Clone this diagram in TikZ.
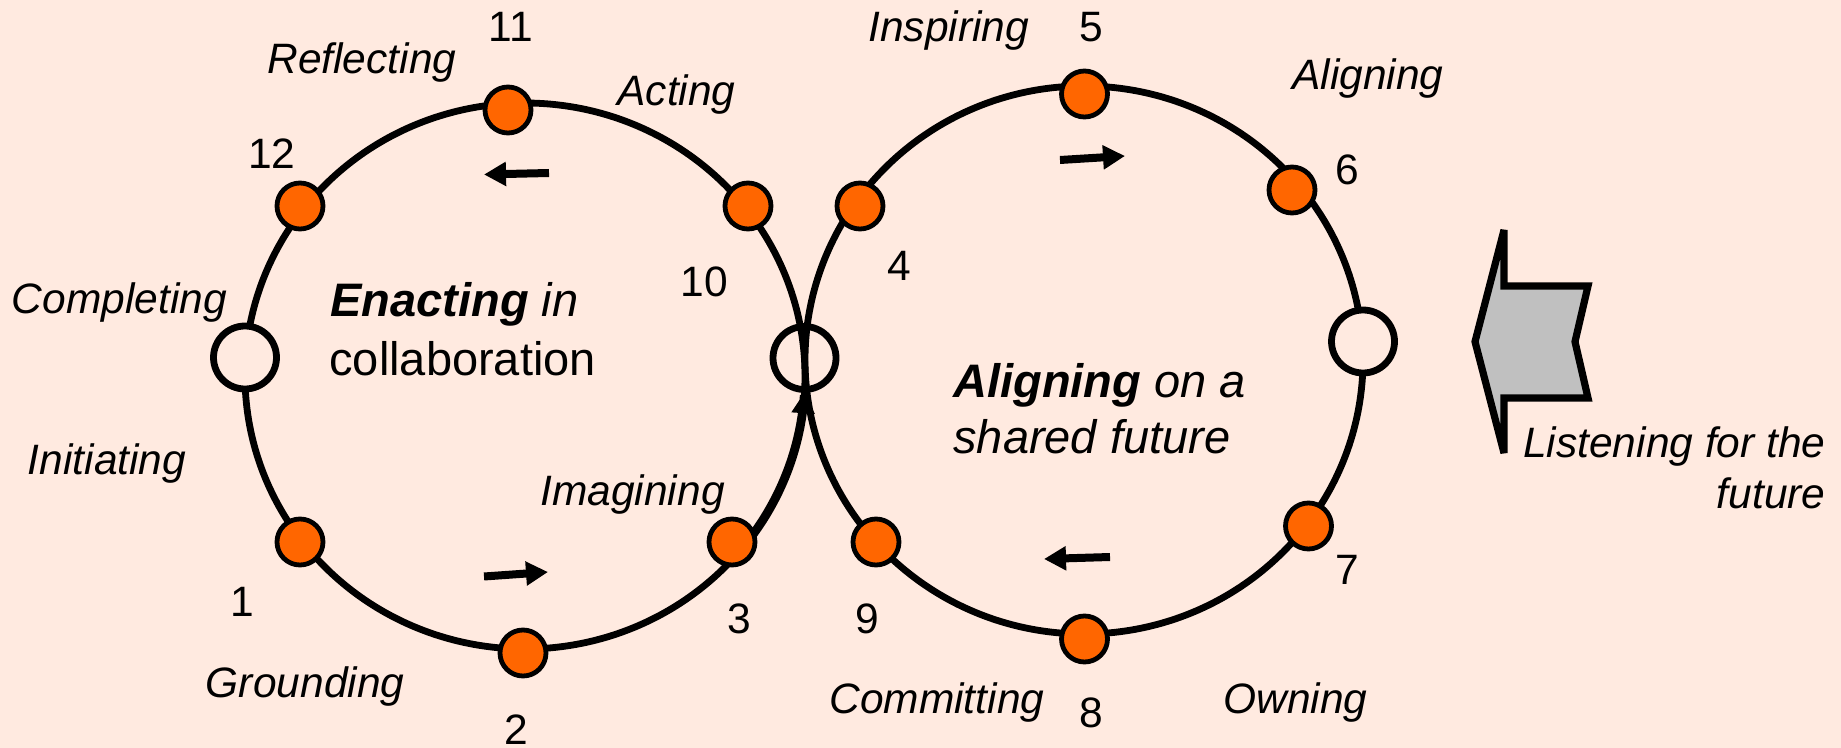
\documentclass[tikz,border=0pt]{standalone}
\usepackage{fontspec}
\setmainfont{Liberation Sans}
\usetikzlibrary{arrows.meta}
\definecolor{bgpeach}{HTML}{FFEAE0}
\definecolor{dotorange}{HTML}{FF6600}
\definecolor{arrowgray}{HTML}{C0C0C0}
\tikzset{
  ring/.style={line width=3.4pt},
  dot/.style={circle, draw, line width=2.4pt, fill=dotorange, minimum size=23pt, inner sep=0pt},
  hole/.style={circle, draw, line width=3.4pt, minimum size=31.5pt, inner sep=0pt},
  lbl/.style={font=\fontsize{21.25}{25}\selectfont\itshape, inner sep=0pt, anchor=base west},
  num/.style={font=\fontsize{21.25}{25}\selectfont, inner sep=0pt, anchor=base, text depth=0pt},
  ctr/.style={font=\fontsize{23.5}{28}\selectfont, inner sep=0pt, anchor=base west},
  flow/.style={line width=4pt, -{Triangle[length=11pt, width=11.5pt]}},
  loopflow/.style={line width=4.4pt, -{Triangle[length=10.5pt, width=11pt]}},
  bigarrow/.style={line width=3.6pt, fill=arrowgray, line join=miter, miter limit=4.5}
}
\begin{document}
\begin{tikzpicture}[x=0.5pt, y=-0.5pt]
  \fill[bgpeach] (0,0) rectangle (1841,748);
  \useasboundingbox (0,0) rectangle (1841,748);

  % rings
  \draw[ring] plot[domain=0:360, samples=181, smooth] ({525+280*cos(\x)},{376-273*sin(\x)}) -- cycle;
  \draw[ring] plot[domain=0:360, samples=181, smooth] ({1084+279*cos(\x)},{360-274*sin(\x)}) -- cycle;

  % flow arrow into the crossing
  \draw[loopflow] plot[domain=-36:-3.4, samples=40, smooth] ({525+280*cos(\x)},{376-273*sin(\x)});

  % left ring points
  \node[dot] (n11) at (508,110) {};
  \node[dot] (n12) at (300,206) {};
  \node[dot] (n10) at (748,206) {};
  \node[dot] (n1)  at (300,542) {};
  \node[dot] (n2)  at (523,653) {};
  \node[dot] (n3)  at (732,542) {};
  \node[hole, fill=bgpeach] (hl) at (245,357.5) {};
  \node[hole] (hx) at (804.5,358) {};

  % right ring points
  \node[dot] (n5) at (1084.5,94) {};
  \node[dot] (n6) at (1292,190) {};
  \node[dot] (n7) at (1308.5,526) {};
  \node[dot] (n8) at (1084.5,639) {};
  \node[dot] (n9) at (876,542) {};
  \node[dot] (n4) at (860,206) {};
  \node[hole, fill=bgpeach] (hr) at (1363,341.5) {};

  % direction arrows
  \coordinate (a1s) at (549,173);   \coordinate (a1e) at (484,174.5);
  \coordinate (a2s) at (484,576.5); \coordinate (a2e) at (548,572);
  \coordinate (a3s) at (1060,160);  \coordinate (a3e) at (1125,156);
  \coordinate (a4s) at (1110,557);  \coordinate (a4e) at (1044,559);
  \draw[flow] (a1s) -- (a1e);
  \draw[flow] (a2s) -- (a2e);
  \draw[flow] (a3s) -- (a3e);
  \draw[flow] (a4s) -- (a4e);

  % listening arrow
  \draw[bigarrow] (1504,230) -- (1504,286) -- (1588,286) -- (1575,341.7) -- (1588,398)
        -- (1504,398) -- (1504,453) -- (1475,341.7) -- cycle;

  % numbers
  \node[num] (t11) at (511,42) {11};
  \node[num] (t12) at (272,169) {12};
  \node[num] (t10) at (704,297) {10};
  \node[num] (t1)  at (242.5,616) {1};
  \node[num] (t3)  at (739,633.5) {3};
  \node[num] (t2)  at (516,744) {2};
  \node[num] (t5)  at (1091.5,42) {5};
  \node[num] (t6)  at (1347,185) {6};
  \node[num] (t4)  at (899,281) {4};
  \node[num] (t7)  at (1347,584) {7};
  \node[num] (t9)  at (867,633.5) {9};
  \node[num] (t8)  at (1091.5,727) {8};

  % stage labels
  \node[lbl] (lrefl) at (267,74) {Reflecting};
  \node[lbl] (lact)  at (617,106) {Acting};
  \node[lbl] (lcomp) at (11.5,314) {Completing};
  \node[lbl] (linit) at (27.5,474) {Initiating};
  \node[lbl] (limag) at (540,505) {Imagining};
  \node[lbl] (lgrnd) at (205.5,697) {Grounding};
  \node[lbl] (linsp) at (868,42) {Inspiring};
  \node[lbl] (lalig) at (1292,89.7) {Aligning};
  \node[lbl] (lcomm) at (829,713) {Committing};
  \node[lbl] (lown)  at (1223,713) {Owning};
  \node[lbl, anchor=base east] (llis1) at (1826,458) {Listening for the};
  \node[lbl, anchor=base east] (llis2) at (1826,508) {future};

  % centre titles
  \node[ctr] (cen1) at (330,317) {\bfseries\itshape Enacting\mdseries\ in};
  \node[ctr] (cen2) at (329,376) {collaboration};
  \node[ctr] (cal1) at (953,398) {\bfseries\itshape Aligning\mdseries\ on a};
  \node[ctr] (cal2) at (953,453) {\itshape shared future};
\end{tikzpicture}
\end{document}
